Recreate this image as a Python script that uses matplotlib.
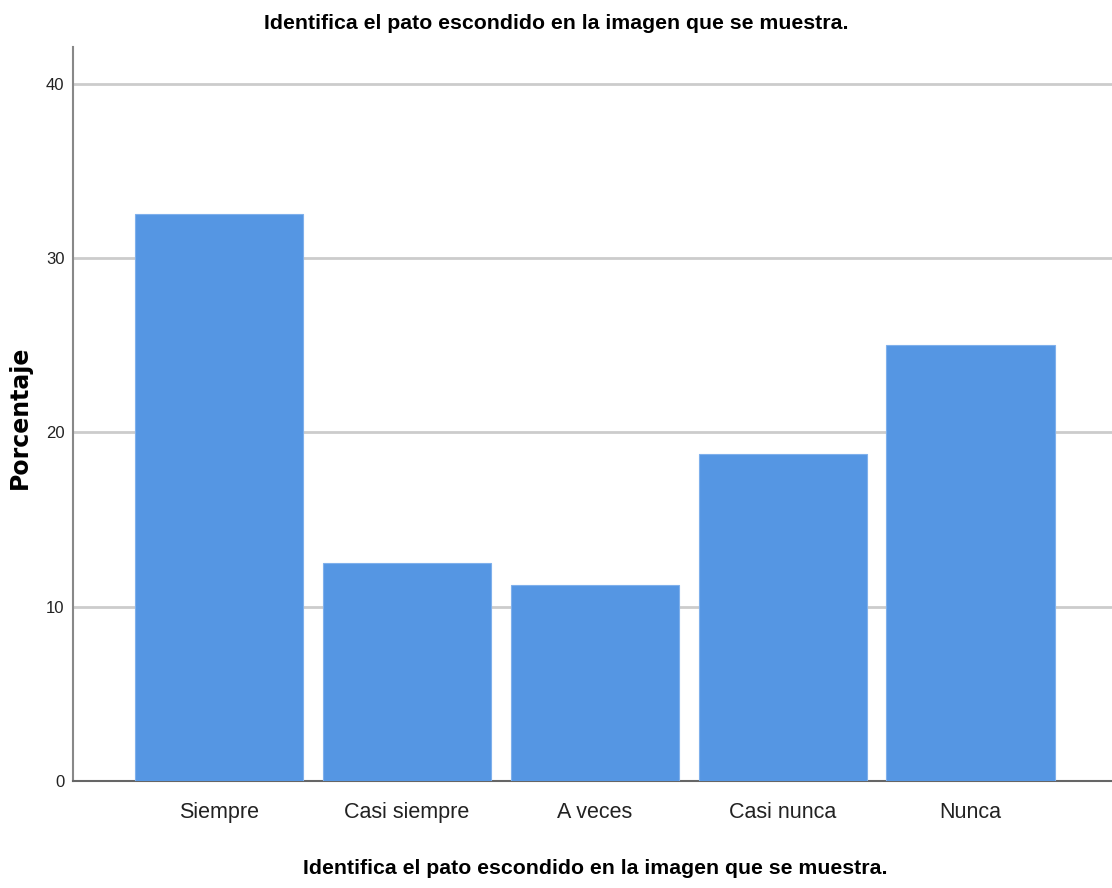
import matplotlib
matplotlib.use("Agg")
import matplotlib.pyplot as plt

categories = ["Siempre", "Casi siempre", "A veces", "Casi nunca", "Nunca"]
percentages = [32.5, 12.5, 11.25, 18.75, 25.0]
yticks = [0, 10, 20, 30, 40]
title = "Identifica el pato escondido en la imagen que se muestra."

fam = ["Liberation Sans", "DejaVu Sans"]

fig = plt.figure(figsize=(11.12, 8.88), dpi=100)
ax = fig.add_axes([0.0656, 0.1205, 0.9344, 0.8265])

x = range(len(categories))
ax.bar(x, percentages, width=0.895, color="#5596E3", edgecolor="#7FB0EC", linewidth=0.8, zorder=3)
ax.set_xlim(-0.777, 4.753)
ax.set_ylim(0, 42.1)
ax.set_yticks(yticks)
ax.set_yticklabels([str(t) for t in yticks], family=fam, fontsize=12)
ax.set_xticks(list(x))
ax.set_xticklabels(categories, family=fam, fontsize=15.5)
ax.tick_params(axis="both", length=0, colors="#222222")
ax.tick_params(axis="y", pad=6)
ax.tick_params(axis="x", pad=15)
ax.grid(axis="y", color="#CCCCCC", linewidth=2, zorder=0)
for s in ["top", "right"]:
    ax.spines[s].set_visible(False)
ax.spines["left"].set_color("#888888")
ax.spines["left"].set_linewidth(1.5)
ax.spines["bottom"].set_color("#666666")
ax.spines["bottom"].set_linewidth(1.5)

fig.text(0.5005, 0.974, title, ha="center", va="center", fontsize=15.3, fontweight="bold", family=fam)
fig.text(0.535, 0.022, title, ha="center", va="center", fontsize=15.3, fontweight="bold", family=fam)
fig.text(0.018, 0.530, "Porcentaje", rotation=90, ha="center", va="center", fontsize=17,
         fontweight="bold", family=["DejaVu Sans"])

fig.savefig("out.png", dpi=100, facecolor="white")
